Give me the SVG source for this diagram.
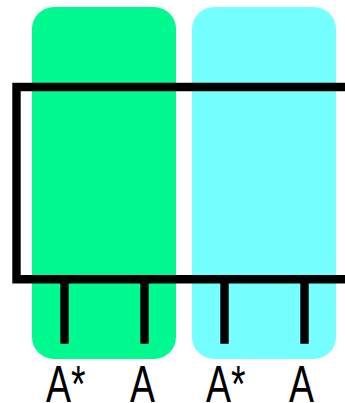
<svg xmlns="http://www.w3.org/2000/svg" width="345" height="403" viewBox="0 0 345 403">
<style>
.line{fill:none;stroke:#000;stroke-width:8.4;stroke-linecap:butt;stroke-linejoin:miter}
.lbl{font-family:"Liberation Sans",Arial,sans-serif;font-size:52px;fill:#000}
</style>
<rect width="345" height="403" fill="#fff"/>
<g id="boxA"><rect x="32" y="7" width="144" height="352" rx="22" fill="#00FA90"/></g>
<g id="boxB"><rect x="192" y="7" width="144" height="352" rx="22" fill="#75FFFF"/></g>
<g id="connectors">
<path class="line" d="M345,87 H16.5 V279.3 H345"/>
<path class="line" d="M64.5,279 V343.7 M144.5,279 V343.7 M224.5,279 V343.7 M304.5,279 V343.7"/>
</g>
<g id="labels">
<text class="lbl" transform="translate(46,402) scale(0.72,1)">A*</text>
<text class="lbl" transform="translate(130,402) scale(0.72,1)">A</text>
<text class="lbl" transform="translate(206,402) scale(0.72,1)">A*</text>
<text class="lbl" transform="translate(289,402) scale(0.72,1)">A</text>
</g>
</svg>
